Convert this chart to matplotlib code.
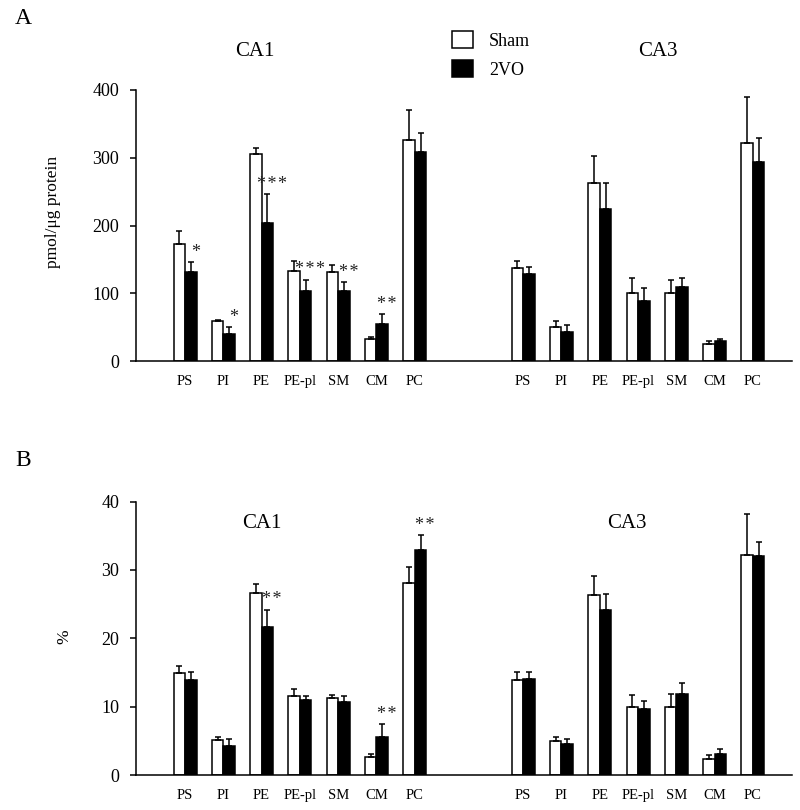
import matplotlib
matplotlib.use("Agg")
import matplotlib.pyplot as plt
import numpy as np

plt.rcParams['font.family'] = ['Liberation Serif', 'DejaVu Serif']

categories = ["PS", "PI", "PE", "PE-pl", "SM", "CM", "PC"]

# Panel A (pmol/ug protein)
a_ca1_sham = [172, 59, 306, 133, 131, 32, 326]
a_ca1_sham_err = [20, 2, 8, 15, 11, 4, 45]
a_ca1_2vo = [131, 40, 204, 104, 103, 54, 309]
a_ca1_2vo_err = [15, 10, 42, 16, 13, 15, 27]
a_ca1_stars = ["*", "*", "***", "***", "**", "**", ""]

a_ca3_sham = [138, 50, 263, 101, 101, 25, 322]
a_ca3_sham_err = [9, 9, 40, 21, 19, 5, 67]
a_ca3_2vo = [129, 43, 224, 89, 109, 29, 294]
a_ca3_2vo_err = [10, 10, 38, 19, 14, 3, 35]
a_ca3_stars = ["", "", "", "", "", "", ""]

# Panel B (%)
b_ca1_sham = [14.9, 5.1, 26.6, 11.5, 11.3, 2.7, 28.1]
b_ca1_sham_err = [1.0, 0.45, 1.35, 1.1, 0.45, 0.4, 2.3]
b_ca1_2vo = [13.9, 4.2, 21.6, 10.9, 10.7, 5.6, 32.9]
b_ca1_2vo_err = [1.1, 1.0, 2.6, 0.7, 0.9, 1.85, 2.2]
b_ca1_stars = ["", "", "**", "", "", "**", "**"]

b_ca3_sham = [13.9, 4.9, 26.3, 10.0, 10.0, 2.4, 32.2]
b_ca3_sham_err = [1.15, 0.7, 2.8, 1.7, 1.8, 0.5, 6.0]
b_ca3_2vo = [14.0, 4.5, 24.2, 9.6, 11.8, 3.0, 32.1]
b_ca3_2vo_err = [1.1, 0.8, 2.3, 1.2, 1.6, 0.85, 2.0]
b_ca3_stars = ["", "", "", "", "", "", ""]

W, H = 800, 810
fig = plt.figure(figsize=(W / 100, H / 100), dpi=100)

LW = 1.1
bw = 0.30
ca3_offset = 8.83
xlim = (-1.28, 15.85)


def draw_panel(ax, sham_sets, vo_sets, stars_sets, ymax, yticks, star_pad):
    handles = None
    groups = [(sham_sets[0], sham_sets[1], vo_sets[0], vo_sets[1], stars_sets[0], 0.0),
              (sham_sets[2], sham_sets[3], vo_sets[2], vo_sets[3], stars_sets[1], ca3_offset)]
    for sham, sham_e, vo, vo_e, stars, off in groups:
        x = np.arange(len(categories)) + off
        b1 = ax.bar(x - bw / 2, sham, bw, color="white", edgecolor="black",
                    linewidth=LW, zorder=2, label="Sham")
        b2 = ax.bar(x + bw / 2, vo, bw, color="black", edgecolor="black",
                    linewidth=LW, zorder=2, label="2VO")
        ax.errorbar(x - bw / 2, sham, yerr=[np.zeros(len(sham)), sham_e],
                    fmt="none", ecolor="black", elinewidth=LW, capsize=2.2,
                    capthick=LW, zorder=3)
        ax.errorbar(x + bw / 2, vo, yerr=[np.zeros(len(vo)), vo_e],
                    fmt="none", ecolor="black", elinewidth=LW, capsize=2.2,
                    capthick=LW, zorder=3)
        for xi, v, e, s in zip(x, vo, vo_e, stars):
            if s:
                ax.text(xi + bw / 2 + 0.12, v + e + star_pad, "\u200a".join(s),
                        ha="center", va="bottom", fontsize=13, color="#222222")
        if handles is None:
            handles = (b1, b2)
    allx = list(np.arange(len(categories))) + list(np.arange(len(categories)) + ca3_offset)
    ax.set_xticks(allx)
    ax.set_xticklabels(categories + categories, fontsize=10.5)
    ax.tick_params(axis="x", length=0, pad=10)
    ax.set_xlim(*xlim)
    ax.set_ylim(0, ymax)
    ax.set_yticks(yticks)
    ax.tick_params(axis="y", direction="out", length=4, width=LW, labelsize=13, pad=8)
    for sp in ["top", "right"]:
        ax.spines[sp].set_visible(False)
    for sp in ["left", "bottom"]:
        ax.spines[sp].set_linewidth(LW)
    return handles


axA = fig.add_axes([136 / W, 1 - 361 / H, (792 - 136) / W, (361 - 90) / H])
hA = draw_panel(axA,
                [a_ca1_sham, a_ca1_sham_err, a_ca3_sham, a_ca3_sham_err],
                [a_ca1_2vo, a_ca1_2vo_err, a_ca3_2vo, a_ca3_2vo_err],
                [a_ca1_stars, a_ca3_stars], 400, [0, 100, 200, 300, 400], 2)

axB = fig.add_axes([136 / W, 1 - 775 / H, (792 - 136) / W, (775 - 501.5) / H])
draw_panel(axB,
           [b_ca1_sham, b_ca1_sham_err, b_ca3_sham, b_ca3_sham_err],
           [b_ca1_2vo, b_ca1_2vo_err, b_ca3_2vo, b_ca3_2vo_err],
           [b_ca1_stars, b_ca3_stars], 40, [0, 10, 20, 30, 40], 0.2)

# Titles and labels
fig.text(15 / W, 1 - 18 / H, "A", fontsize=17, ha="left", va="center")
fig.text(15 / W, 1 - 460 / H, "B", fontsize=17, ha="left", va="center")
fig.text(255 / W, 1 - 52 / H, "CA1", fontsize=15, ha="center", va="center")
fig.text(658 / W, 1 - 52 / H, "CA3", fontsize=15, ha="center", va="center")
fig.text(262 / W, 1 - 524 / H, "CA1", fontsize=15, ha="center", va="center")
fig.text(627 / W, 1 - 524 / H, "CA3", fontsize=15, ha="center", va="center")
fig.text(53 / W, 1 - 212 / H, "pmol/\u03bcg protein", fontsize=12.5, rotation=90,
         ha="center", va="center")
fig.text(64 / W, 1 - 637 / H, "%", fontsize=12.5, rotation=90, ha="center", va="center")

fig.legend(hA, ["Sham", "2VO"], loc="upper left",
           bbox_to_anchor=(452 / W, 1 - 31 / H), frameon=False, fontsize=13,
           handlelength=1.15, handleheight=1.1, handletextpad=0.9,
           labelspacing=0.55, borderpad=0, borderaxespad=0)

fig.savefig("out.png", dpi=100)
